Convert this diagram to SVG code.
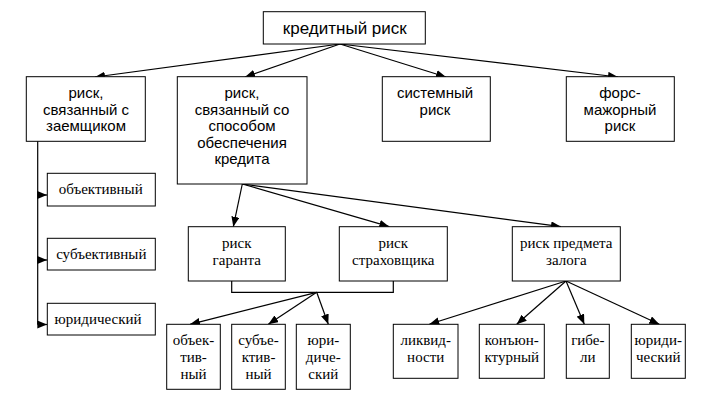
<svg xmlns="http://www.w3.org/2000/svg" width="716" height="400" viewBox="0 0 716 400">
<defs>
<marker id="ah" viewBox="0 0 10 8" refX="10" refY="4" markerWidth="10" markerHeight="8" markerUnits="userSpaceOnUse" orient="auto">
<path d="M0,0 L10,4 L0,8 Z" fill="#000"/>
</marker>
<style>
rect{fill:#fff;stroke:#000;stroke-width:1}
.s{font-family:"Liberation Sans",Arial,sans-serif;font-size:15px;text-anchor:middle;fill:#000}
.t{font-family:"Liberation Serif","Times New Roman",serif;font-size:15px;text-anchor:middle;fill:#000}
.big{font-size:17px}
.c{fill:none;stroke:#000;stroke-width:1.2}
.a{marker-end:url(#ah)}
</style>
</defs>
<rect x="0" y="0" width="716" height="400" style="fill:#fff;stroke:none"/>
<g id="connectors">
<line class="c a" x1="340" y1="44" x2="95" y2="77"/>
<line class="c a" x1="340" y1="44" x2="245" y2="77"/>
<line class="c a" x1="340" y1="44" x2="446" y2="77"/>
<line class="c a" x1="340" y1="44" x2="618" y2="77"/>
<polyline class="c" points="37.7,141 37.7,324.5"/>
<line class="c a" x1="37.7" y1="195" x2="47.3" y2="195"/>
<line class="c a" x1="37.7" y1="260" x2="47.3" y2="260"/>
<line class="c a" x1="37.7" y1="324.5" x2="47.3" y2="324.5"/>
<line class="c a" x1="242.3" y1="184" x2="233.3" y2="226.7"/>
<line class="c a" x1="242.3" y1="184" x2="389.3" y2="226.7"/>
<line class="c a" x1="242.3" y1="184" x2="561" y2="226.7"/>
<polyline class="c" points="231.7,281 231.7,292.3 393.3,292.3 393.3,281"/>
<line class="c a" x1="316.7" y1="292.3" x2="190" y2="324.3"/>
<line class="c a" x1="316.7" y1="292.3" x2="268.3" y2="324.3"/>
<line class="c a" x1="316.7" y1="292.3" x2="328.3" y2="324.3"/>
<line class="c a" x1="566" y1="281" x2="429.3" y2="324.3"/>
<line class="c a" x1="566" y1="281" x2="516.7" y2="324.3"/>
<line class="c a" x1="566" y1="281" x2="584.3" y2="324.3"/>
<line class="c a" x1="566" y1="281" x2="659.3" y2="324.3"/>
</g>
<g id="n-credit"><rect x="263.3" y="11.7" width="162" height="32.3"/><text class="s big" x="344.8" y="34">кредитный риск</text></g>
<g id="n-borrower"><rect x="26.3" y="76.7" width="119" height="64.6"/><text class="s" x="86" y="98">риск,</text><text class="s" x="86" y="114.5">связанный с</text><text class="s" x="86" y="131">заемщиком</text></g>
<g id="n-method"><rect x="177.3" y="76.7" width="129.7" height="107.3"/><text class="s" x="242" y="98">риск,</text><text class="s" x="242" y="114.5">связанный со</text><text class="s" x="242" y="131">способом</text><text class="s" x="242" y="147.5">обеспечения</text><text class="s" x="242" y="164">кредита</text></g>
<g id="n-system"><rect x="382.3" y="76.7" width="108" height="64.6"/><text class="s" x="435" y="98">системный</text><text class="s" x="435" y="114.5">риск</text></g>
<g id="n-force"><rect x="566.3" y="76.7" width="108" height="64.6"/><text class="s" x="620" y="98">форс-</text><text class="s" x="620" y="114.5">мажорный</text><text class="s" x="620" y="131">риск</text></g>
<g id="n-obj"><rect x="47.3" y="173.3" width="108" height="32.7"/><text class="t" x="100.7" y="194">объективный</text></g>
<g id="n-subj"><rect x="47.3" y="238.3" width="108" height="31.7"/><text class="t" x="101.3" y="259">субъективный</text></g>
<g id="n-jur"><rect x="47.3" y="303.3" width="108" height="31.7"/><text class="t" x="98" y="323.5">юридический</text></g>
<g id="n-garant"><rect x="188.3" y="226.7" width="97" height="54.3"/><text class="t" x="236.8" y="247.5">риск</text><text class="t" x="236.8" y="264.5">гаранта</text></g>
<g id="n-insurer"><rect x="339.3" y="226.7" width="108" height="54.3"/><text class="t" x="393.3" y="247.5">риск</text><text class="t" x="393.3" y="264.5">страховщика</text></g>
<g id="n-pledge"><rect x="512.3" y="226.7" width="108" height="54.3"/><text class="t" x="566.3" y="247.5">риск предмета</text><text class="t" x="566.3" y="264.5">залога</text></g>
<g id="n-obj2"><rect x="166.7" y="324.3" width="53.6" height="65"/><text class="t" x="193.5" y="345">объек-</text><text class="t" x="193.5" y="362">тив-</text><text class="t" x="193.5" y="378.5">ный</text></g>
<g id="n-subj2"><rect x="231.7" y="324.3" width="53.6" height="65"/><text class="t" x="258.5" y="345">субъе-</text><text class="t" x="258.5" y="362">ктив-</text><text class="t" x="258.5" y="378.5">ный</text></g>
<g id="n-jur2"><rect x="296.3" y="324.3" width="54" height="65"/><text class="t" x="323.3" y="345">юри-</text><text class="t" x="323.3" y="362">диче-</text><text class="t" x="323.3" y="378.5">ский</text></g>
<g id="n-liquid"><rect x="393.3" y="324.3" width="64.7" height="54"/><text class="t" x="425.7" y="345">ликвид-</text><text class="t" x="425.7" y="361.5">ности</text></g>
<g id="n-conj"><rect x="479.3" y="324.3" width="65" height="54"/><text class="t" x="511.8" y="345">конъюн-</text><text class="t" x="511.8" y="361.5">ктурный</text></g>
<g id="n-loss"><rect x="566.3" y="324.3" width="43" height="54"/><text class="t" x="587.8" y="345">гибе-</text><text class="t" x="587.8" y="361.5">ли</text></g>
<g id="n-jur3"><rect x="631.3" y="324.3" width="54" height="54"/><text class="t" x="658.3" y="345">юриди-</text><text class="t" x="658.3" y="361.5">ческий</text></g>
</svg>
